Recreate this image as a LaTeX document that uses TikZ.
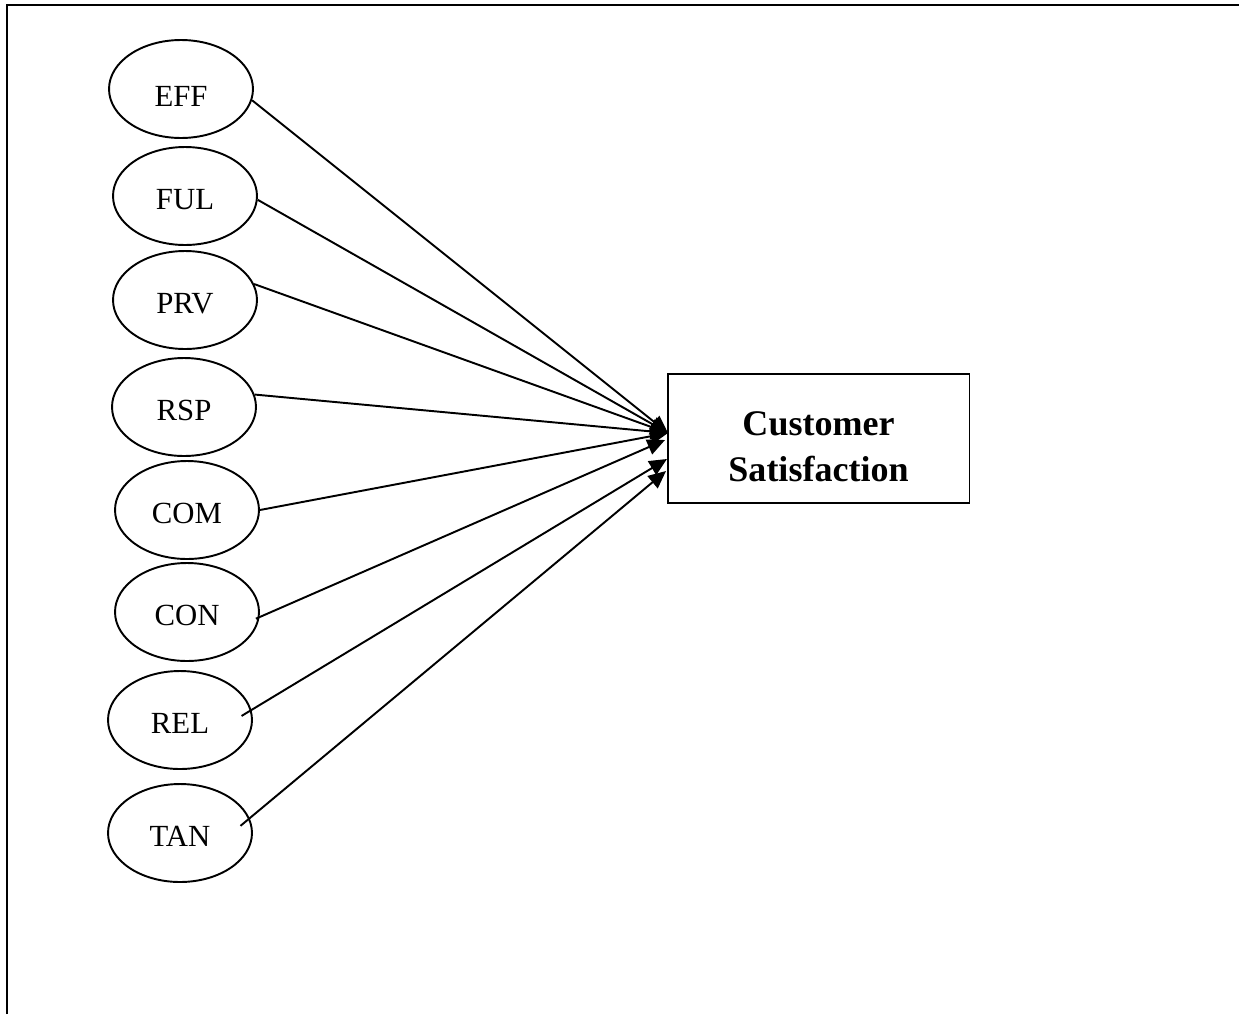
\documentclass[tikz,border=0pt]{standalone}
\usepackage{fontspec}
\setmainfont{Liberation Serif}
\usetikzlibrary{shapes.geometric,arrows.meta}

\begin{document}
\begin{tikzpicture}[x=0.02cm, y=-0.02cm,
      dim/.style={ellipse, draw, line width=1.1pt, minimum width=2.88cm, minimum height=1.96cm, inner sep=0pt, text height=15pt, text depth=0pt, font=\fontsize{17.5}{21}\selectfont},
      target/.style={rectangle, draw, line width=1.1pt, minimum width=6.04cm, minimum height=2.58cm, align=center, font=\fontsize{20.5}{26.7}\selectfont\bfseries},
      link/.style={line width=1.1pt, -{Triangle[length=10pt,width=9pt]}}]
      \useasboundingbox (0,0) rectangle (1239,1014);
      \coordinate (c1) at (7,5);
      \coordinate (c2) at (1239,5);
      \coordinate (c3) at (7,1014);
      \draw[line width=1.2pt] (c3) -- (c1) -- (c2);

      \node[dim, text height=19.5pt] (eff) at (181,89) {EFF};
      \node[dim] (ful) at (185,196) {FUL};
      \node[dim] (prv) at (185,300) {PRV};
      \node[dim] (rsp) at (184,407) {RSP};
      \node[dim] (com) at (187,510) {COM};
      \node[dim] (con) at (187,612) {CON};
      \node[dim] (rel) at (180,720) {REL};
      \node[dim] (tan) at (180,833) {TAN};
      \node[target] (cs) at (818.5,438.5) {\rule{0pt}{23pt}Customer\\Satisfaction};

      \coordinate (t1) at (668,433);
      \coordinate (t2) at (665,440);
      \coordinate (t3) at (667,459);
      \coordinate (t4) at (666,471);

      \draw[link] (eff.-9) -- (t1);
      \draw[link] (ful.-3) -- (t1);
      \draw[link] (prv.13) -- (t1);
      \draw[link] (rsp.10) -- (t1);
      \draw[link] (com.east) -- (t1);
      \draw[link, shorten <=-2.3pt] (con.-4) -- (t2);
      \draw[link, shorten <=-6.6pt] (rel.8) -- (t3);
      \draw[link, shorten <=-6.8pt] (tan.12) -- (t4);
\end{tikzpicture}
\end{document}
